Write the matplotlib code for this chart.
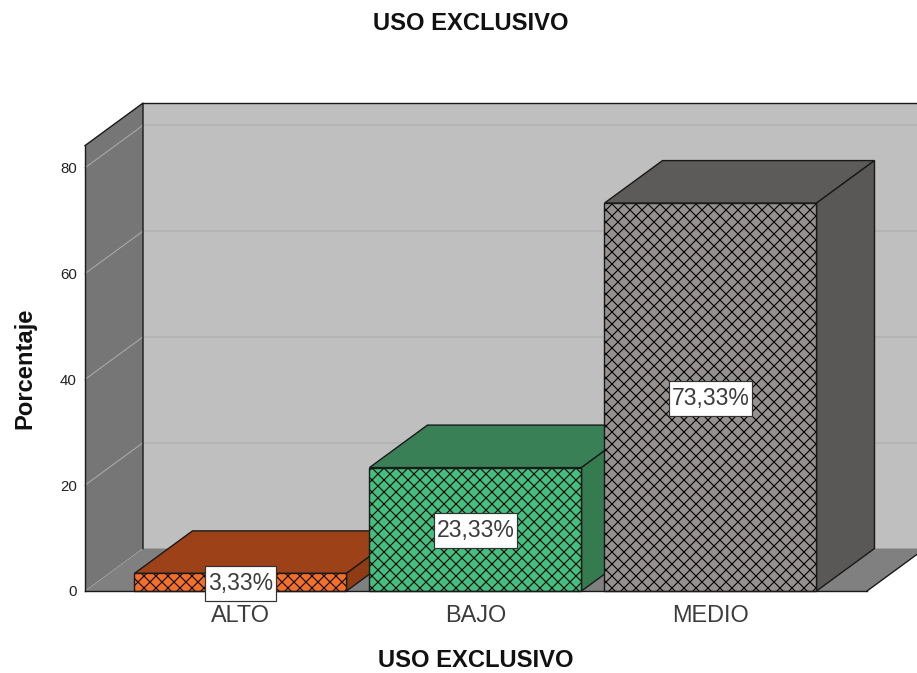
import matplotlib
matplotlib.use('Agg')
import matplotlib.pyplot as plt
from matplotlib.patches import Polygon, Rectangle

plt.rcParams['font.family'] = ['Liberation Sans', 'DejaVu Sans']
plt.rcParams['hatch.linewidth'] = 1.1

categories = ['ALTO', 'BAJO', 'MEDIO']
values = [3.33, 23.33, 73.33]
labels = ['3,33%', '23,33%', '73,33%']
yticks = [0, 20, 40, 60, 80]

front_colors = ['#f4702a', '#43c07f', '#96918f']
top_colors = ['#9c4118', '#3a8056', '#5d5b5a']
side_colors = ['#8f3c14', '#367a50', '#5a5856']

# dpi 72 so font sizes read as pixels
fig = plt.figure(figsize=(917 / 72, 673 / 72), dpi=72, facecolor='white')
ax = fig.add_axes([0, 0, 1, 1])

# one category step = 235 px, one percent = 5.29 px
px_x = 235.0
px_y = 5.29
ax.set_xlim(-240.5 / px_x, (917 - 240.5) / px_x)
ax.set_ylim(-(673 - 591) / px_y, 591 / px_y)
ax.patch.set_alpha(0)

# depth of the fake 3d box
dx = 58 / px_x
dy = 42.5 / px_y
bar_w = 212 / px_x

# box corners on the front plane
x_left = (85 - 240.5) / px_x
x_right = (867 - 240.5) / px_x
x_end = (917 - 240.5) / px_x
y_top = 84.2

lw = 1.4
edge = '#1a1a1a'

# back wall
ax.add_patch(Polygon([(x_left + dx, dy), (x_end + 1, dy), (x_end + 1, y_top + dy), (x_left + dx, y_top + dy)],
                     facecolor='#bfbfbf', edgecolor='none', zorder=1))
# left wall
ax.add_patch(Polygon([(x_left, 0), (x_left + dx, dy), (x_left + dx, y_top + dy), (x_left, y_top)],
                     facecolor='#767676', edgecolor='none', zorder=1.2))
ax.plot([x_left, x_left + dx, x_left + dx], [y_top, y_top + dy, dy], color=edge, lw=lw, zorder=1.3)
# floor
ax.add_patch(Polygon([(x_left, 0), (x_left + dx, dy), (x_end + 1, dy), (x_right + dx, dy), (x_right, 0)],
                     facecolor='#808080', edgecolor='none', zorder=1.1))
ax.plot([x_right, x_right + dx], [0, dy], color=edge, lw=lw, zorder=1.3)
ax.plot([x_left + dx, x_end], [y_top + dy, y_top + dy], color=edge, lw=lw, zorder=1.3)

# gridlines on the walls
for t in yticks[1:]:
    ax.plot([x_left + dx, x_end], [t + dy, t + dy], color='#b2b2b2', lw=1.6, zorder=1.05)
    ax.plot([x_left, x_left + dx], [t, t + dy], color='#a8a8a8', lw=1.1, zorder=1.25)
ax.plot([x_left, x_left + dx], [0, dy], color='#a8a8a8', lw=1.0, ls=':', zorder=1.25)

# bars, drawn left to right so each one covers the previous
for i, v in enumerate(values):
    z = 2 + i
    x0 = i - bar_w / 2
    x1 = i + bar_w / 2
    ax.add_patch(Polygon([(x0, v), (x1, v), (x1 + dx, v + dy), (x0 + dx, v + dy)],
                         facecolor=top_colors[i], edgecolor=edge, lw=lw, zorder=z))
    ax.add_patch(Polygon([(x1, 0), (x1 + dx, dy), (x1 + dx, v + dy), (x1, v)],
                         facecolor=side_colors[i], edgecolor=edge, lw=lw, zorder=z))
    ax.bar(i, v, width=bar_w, color=front_colors[i], edgecolor='black', hatch='xx', lw=0, zorder=z + 0.1)
    ax.bar(i, v, width=bar_w, facecolor='none', edgecolor=edge, lw=lw, zorder=z + 0.2)

# value labels: white box a bit taller than the text
fig.canvas.draw()
renderer = fig.canvas.get_renderer()
for i, v in enumerate(values):
    t = ax.text(i, v / 2 - 0.2, labels[i], ha='center', va='center', fontsize=23, color='#3c3c3c', zorder=11)
    w = t.get_window_extent(renderer).width + 6
    h = 35
    ax.add_patch(Rectangle((i - w / 2 / px_x, v / 2 - 0.2 - h / 2 / px_y), w / px_x, h / px_y,
                           facecolor='white', edgecolor='#333333', lw=1.2, zorder=10))

ax.spines['top'].set_visible(False)
ax.spines['right'].set_visible(False)
ax.spines['left'].set_position(('data', x_left))
ax.spines['left'].set_bounds(0, y_top)
ax.spines['bottom'].set_position(('data', 0))
ax.spines['bottom'].set_bounds(x_left, x_right)
for s in ['left', 'bottom']:
    ax.spines[s].set_linewidth(lw)
    ax.spines[s].set_color(edge)
    ax.spines[s].set_zorder(9)

ax.set_xticks(range(len(categories)))
ax.set_xticklabels(categories, fontsize=23.5, color='#3c3c3c')
ax.set_yticks(yticks)
ax.tick_params(axis='x', length=0, pad=14)
ax.tick_params(axis='y', length=0, pad=8, labelsize=15, labelcolor='#222222')

ax.text(0.5135, 0.9655, 'USO EXCLUSIVO', transform=ax.transAxes, ha='center', va='center',
        fontsize=23.7, fontweight='bold', color='#111111')
ax.text(0.519, 0.0185, 'USO EXCLUSIVO', transform=ax.transAxes, ha='center', va='center',
        fontsize=23.7, fontweight='bold', color='#111111')
ax.text(0.0272, 0.4525, 'Porcentaje', transform=ax.transAxes, ha='center', va='center', rotation=90,
        fontsize=23.7, fontweight='bold', color='#111111')

fig.savefig('out.png', dpi=72, facecolor='white')
